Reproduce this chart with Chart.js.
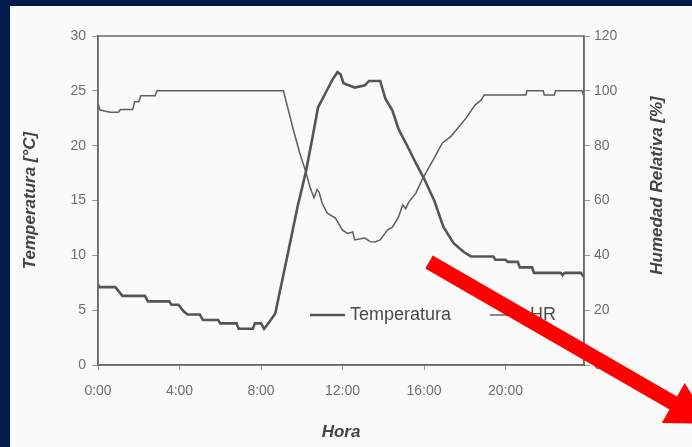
<!DOCTYPE html>
<html lang="es">
<head>
    <meta charset="UTF-8">
    <title>Temperatura y Humedad Relativa</title>
    <script src="https://cdn.jsdelivr.net/npm/chart.js"></script>
    <style>
        html, body { margin: 0; padding: 0; }
        body { width: 692px; height: 447px; background: #021a4c; position: relative; overflow: hidden; }
        .panel { position: absolute; left: 10px; top: 6px; right: 0; bottom: 0; background: #fafafa; }
        #chart { position: absolute; left: 0; top: 0; }
    </style>
</head>
<body>
    <div class="panel"></div>
    <canvas id="chart" width="692" height="447"></canvas>

    <script>
        // hora del dia (h) y temperatura (°C)
        const tempHours = [0, 0.05, 0.85, 1.2, 2.3, 2.45, 3.5, 3.6, 3.95, 4.2, 4.4, 5.0, 5.15, 5.9, 6.0, 6.8, 6.9, 7.6, 7.7, 8.0,
            8.15, 8.4, 8.7, 8.9, 9.05, 9.3, 9.8, 10.2, 10.5, 10.8, 11.25, 11.5, 11.75, 11.9, 12.05, 12.6, 13.1, 13.3, 13.85, 14.1,
            14.45, 14.75, 15.2, 15.6, 16.0, 16.5, 16.95, 17.45, 17.95, 18.3, 19.4, 19.5, 20.0, 20.1, 20.6, 20.7, 21.3, 21.4, 22.7, 22.8,
            22.9, 23.7, 23.85];
        const tempValues = [7.4, 7.1, 7.1, 6.3, 6.3, 5.8, 5.8, 5.5, 5.5, 4.9, 4.6, 4.6, 4.1, 4.1, 3.8, 3.8, 3.3, 3.3, 3.8, 3.8,
            3.3, 3.9, 4.7, 6.5, 7.8, 10.0, 14.5, 17.6, 20.5, 23.5, 25.1, 26.0, 26.7, 26.5, 25.7, 25.3, 25.5, 25.9, 25.9, 24.3,
            23.2, 21.5, 19.9, 18.4, 17.0, 15.0, 12.6, 11.1, 10.3, 9.9, 9.9, 9.6, 9.6, 9.4, 9.4, 8.9, 8.9, 8.4, 8.4, 8.2,
            8.4, 8.4, 8.0];

        // hora del dia (h) y humedad relativa (%)
        const hrHours = [0, 0.1, 0.6, 1.0, 1.1, 1.7, 1.8, 2.0, 2.1, 2.8, 2.9, 9.1, 9.55, 9.9, 10.2, 10.4, 10.6, 10.75, 10.85, 11.0,
            11.25, 11.65, 12.0, 12.25, 12.5, 12.6, 13.1, 13.35, 13.6, 13.85, 14.2, 14.45, 14.75, 14.95, 15.1, 15.25, 15.6, 15.9, 16.45, 16.9,
            17.3, 17.7, 18.1, 18.5, 18.8, 18.95, 21.0, 21.05, 21.85, 21.9, 22.4, 22.45, 23.75, 23.85];
        const hrValues = [95.5, 93, 92.2, 92.2, 93.2, 93.2, 96, 96, 98.2, 98.2, 100, 100, 86.8, 77.3, 70.4, 65, 61, 64, 63, 59,
            55.4, 53.6, 49.2, 48, 48.5, 45.6, 46.3, 45, 44.9, 45.6, 49.2, 50.3, 54, 58.4, 57, 59.4, 62.7, 67.5, 74.8, 81,
            83.2, 86.8, 90.4, 94.8, 96.6, 98.5, 98.5, 100, 100, 98.5, 98.5, 100, 100, 98];

        const xTicks = [0, 4, 8, 12, 16, 20];
        const xMax = 23.85;

        const fontFamily = "'Liberation Sans', Arial, sans-serif";
        const axisColor = '#6a6a6a';
        const tickColor = '#6e6e6e';

        // marco superior / derecho del area de grafico
        const frame = {
            id: 'frame',
            afterDraw(chart) {
                const a = chart.chartArea;
                const ctx = chart.ctx;
                ctx.save();
                ctx.strokeStyle = axisColor;
                ctx.lineWidth = 1.5;
                ctx.strokeRect(a.left, a.top, a.right - a.left, a.bottom - a.top);
                ctx.restore();
            }
        };

        // leyenda dentro del area de grafico
        const innerLegend = {
            id: 'innerLegend',
            afterDraw(chart) {
                const a = chart.chartArea;
                const ctx = chart.ctx;
                const y = a.bottom - 50;
                const starts = [a.left + 212, a.left + 392];
                ctx.save();
                ctx.font = '18px ' + fontFamily;
                ctx.textBaseline = 'middle';
                chart.data.datasets.forEach((ds, i) => {
                    const x = starts[i];
                    ctx.strokeStyle = ds.borderColor;
                    ctx.lineWidth = ds.borderWidth;
                    ctx.beginPath();
                    ctx.moveTo(x, y);
                    ctx.lineTo(x + 35, y);
                    ctx.stroke();
                    ctx.fillStyle = '#4a4a4a';
                    ctx.fillText(ds.label, x + 40, y);
                });
                ctx.restore();
            }
        };

        // titulo del eje derecho, leido de abajo hacia arriba
        const rightTitle = {
            id: 'rightTitle',
            afterDraw(chart) {
                const a = chart.chartArea;
                const ctx = chart.ctx;
                ctx.save();
                ctx.translate(657, (a.top + a.bottom) / 2 - 15);
                ctx.rotate(-Math.PI / 2);
                ctx.font = 'italic bold 17px ' + fontFamily;
                ctx.fillStyle = '#444';
                ctx.textAlign = 'center';
                ctx.textBaseline = 'middle';
                ctx.fillText('Humedad Relativa [%]', 0, 0);
                ctx.restore();
            }
        };

        // flecha roja superpuesta
        const redArrow = {
            id: 'redArrow',
            afterDraw(chart) {
                const ctx = chart.ctx;
                const sx = 429, sy = 262, ang = Math.PI / 6;
                const shaft = 282, half = 7.5, headHalf = 23, headLen = 42;
                ctx.save();
                ctx.translate(sx, sy);
                ctx.rotate(ang);
                ctx.fillStyle = '#ff0000';
                ctx.beginPath();
                ctx.moveTo(0, -half);
                ctx.lineTo(shaft, -half);
                ctx.lineTo(shaft, -headHalf);
                ctx.lineTo(shaft + headLen, 0);
                ctx.lineTo(shaft, headHalf);
                ctx.lineTo(shaft, half);
                ctx.lineTo(0, half);
                ctx.closePath();
                ctx.fill();
                ctx.restore();
            }
        };

        const ctx = document.getElementById('chart').getContext('2d');
        const chart = new Chart(ctx, {
            type: 'line',
            data: {
                datasets: [{
                    label: 'Temperatura',
                    data: tempHours.map((h, i) => ({ x: h, y: tempValues[i] })),
                    borderColor: '#555',
                    borderWidth: 2.6,
                    pointRadius: 0,
                    tension: 0,
                    yAxisID: 'y'
                }, {
                    label: 'HR',
                    data: hrHours.map((h, i) => ({ x: h, y: hrValues[i] })),
                    borderColor: '#5e5e5e',
                    borderWidth: 1.5,
                    pointRadius: 0,
                    tension: 0,
                    yAxisID: 'y1'
                }]
            },
            options: {
                responsive: false,
                animation: false,
                layout: { padding: { top: 36, left: 0, right: 0, bottom: 0 } },
                plugins: {
                    legend: { display: false },
                    tooltip: { enabled: false }
                },
                scales: {
                    x: {
                        type: 'linear',
                        min: 0,
                        max: xMax,
                        afterFit: s => { s.height = 82; },
                        afterBuildTicks: s => { s.ticks = xTicks.map(v => ({ value: v })); },
                        border: { color: axisColor, width: 1.5 },
                        grid: { display: true, drawOnChartArea: false, color: '#999', tickLength: 5 },
                        ticks: {
                            color: tickColor,
                            font: { family: fontFamily, size: 14 },
                            padding: 13,
                            maxRotation: 0,
                            callback: v => v + ':00'
                        },
                        title: {
                            display: true,
                            text: 'Hora',
                            color: '#444',
                            font: { family: fontFamily, size: 17, style: 'italic', weight: 'bold' },
                            padding: { top: 0, bottom: 4 }
                        }
                    },
                    y: {
                        position: 'left',
                        min: 0,
                        max: 30,
                        afterFit: s => { s.width = 98; },
                        border: { color: axisColor, width: 1.5 },
                        grid: { display: true, drawOnChartArea: false, color: '#999', tickLength: 6 },
                        ticks: {
                            stepSize: 5,
                            color: tickColor,
                            font: { family: fontFamily, size: 14 },
                            padding: 6
                        },
                        title: {
                            display: true,
                            text: 'Temperatura [°C]',
                            color: '#444',
                            font: { family: fontFamily, size: 17, style: 'italic', weight: 'bold' },
                            padding: { top: 20, bottom: 0 }
                        }
                    },
                    y1: {
                        position: 'right',
                        min: 0,
                        max: 120,
                        afterFit: s => { s.width = 108; },
                        border: { color: axisColor, width: 1.5 },
                        grid: { display: true, drawOnChartArea: false, color: '#999', tickLength: 6 },
                        ticks: {
                            stepSize: 20,
                            color: tickColor,
                            font: { family: fontFamily, size: 14 },
                            padding: 4
                        }
                    }
                }
            },
            plugins: [frame, innerLegend, rightTitle, redArrow]
        });
    </script>
</body>
</html>
